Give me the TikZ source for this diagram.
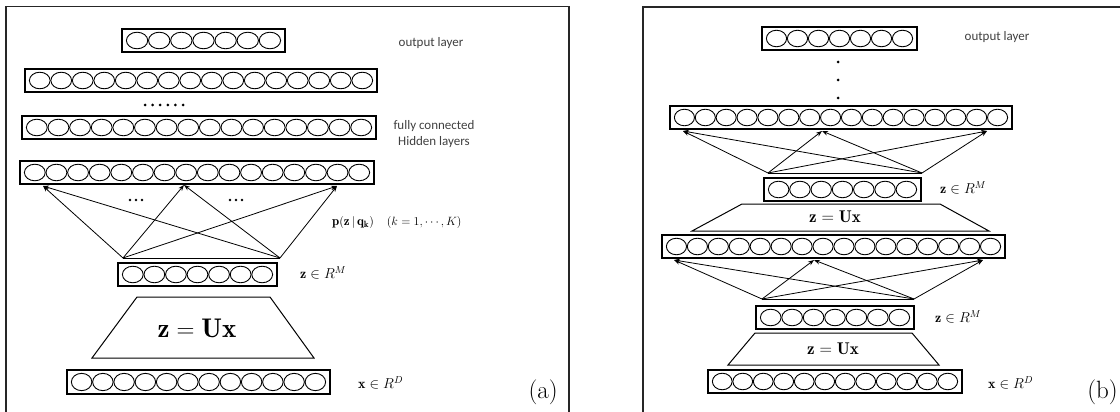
\documentclass[tikz,border=0pt]{standalone}
\usepackage{graphicx}
\usepackage{fontspec}
\newfontfamily\labfont{Carlito}
\usetikzlibrary{arrows.meta}
\tikzset{
 frame/.style={line width=1.2pt, draw=black!85},
 layerbox/.style={draw, line width=1.4pt, inner sep=0pt, outer sep=0pt},
 neuron/.style={line width=0.9pt},
 conn/.style={line width=0.8pt, -{Stealth[length=6pt,width=4.5pt]}},
 bar/.style={line width=0.8pt},
 trap/.style={line width=1pt},
 sanslab/.style={font=\labfont\fontsize{13}{16}\selectfont, text=black!75, align=center},
 mathlab/.style={font=\fontsize{14}{16}\selectfont, anchor=west, inner sep=0pt},
 plab/.style={font=\fontsize{13}{15}\selectfont, anchor=west, inner sep=0pt},
 panlab/.style={font=\fontsize{25}{27}\selectfont, inner sep=0pt},
 dotmark/.style={fill=black},
}
\newcommand\nnlayer[6]{%
  \pgfmathsetmacro\nnW{#4-#2}%
  \pgfmathsetmacro\nnH{#5-#3}%
  \pgfmathsetmacro\nnCX{(#2+#4)/2}%
  \pgfmathsetmacro\nnCY{(#3+#5)/2}%
  \pgfmathsetmacro\nnStep{(\nnW-8)/#6}%
  \pgfmathsetmacro\nnRX{\nnStep/2-0.4}%
  \pgfmathsetmacro\nnRY{\nnH*0.36}%
  \node[layerbox, minimum width=\nnW pt, minimum height=\nnH pt] (#1) at (\nnCX,\nnCY) {};
  \foreach \i in {1,...,#6}{\draw[neuron] ({#2+4+(\i-0.5)*\nnStep},\nnCY) ellipse [x radius=\nnRX pt, y radius=\nnRY pt];}
}
\begin{document}
\begin{tikzpicture}[x=1pt,y=-1pt]
\useasboundingbox (0,0) rectangle (1120,412);
% frames
\draw[frame] (6,412) -- (6,6.5) -- (569,6.5) -- (569,412);
\draw[frame] (643,412) -- (643,7) -- (1120,7);

% ---------------- panel (a)
\nnlayer{aOut}{122}{29}{285}{52}{7}
\node[sanslab] (aOutLab) at (431,43) {output layer};
\nnlayer{aH1}{25}{69}{377}{92}{16}
\foreach \k in {0,...,5}{\fill[dotmark] (145+\k*7.6,105) circle (1.5pt);}
\nnlayer{aH2}{22}{116}{376}{139}{16}
\node[sanslab] (aHidLab) at (434,134) {fully connected\\Hidden layers};
\nnlayer{aH3}{20}{161}{374}{184}{16}
\foreach \k in {0,...,2}{\fill[dotmark] (130+\k*6,200) circle (1.4pt);}
\foreach \k in {0,...,2}{\fill[dotmark] (230+\k*6,200) circle (1.4pt);}
\coordinate (aS1) at (123,258);
\coordinate (aS2) at (280,258);
\coordinate (aT1) at (43,186);
\coordinate (aT2) at (184,185);
\coordinate (aT3) at (337,186);
\draw[bar] (aS1) -- (aS2);
\foreach \s in {aS1,aS2}{\foreach \t in {aT1,aT2,aT3}{\draw[conn] (\s) -- (\t);}}
\node[plab] (aP) at (332,222) {$\mathbf{p(z\,|\,q_k)}\quad(k=1,\cdots,K)$};
\nnlayer{aZ}{118}{263}{277}{286}{7}
\node[mathlab] (aZlab) at (300,273) {$\mathbf{z}\in R^{M}$};
\draw[trap] (137,297) -- (270,297) -- (314,358) -- (92,358) -- cycle;
\node[font=\fontsize{27}{29}\selectfont] (aU) at (197,328) {$\mathbf{z=Ux}$};
\nnlayer{aX}{67}{370}{330}{394}{12}
\node[mathlab] (aXlab) at (358,383) {$\mathbf{x}\in R^{D}$};
\node[panlab, anchor=east] (aLab) at (558,392) {(a)};

% ---------------- panel (b)
\nnlayer{bOut}{762}{27}{917}{50}{7}
\node[sanslab] (bOutLab) at (997,37) {output layer};
\foreach \k in {62,80,98}{\fill[dotmark] (838,\k) circle (1.5pt);}
\nnlayer{bH1}{670}{106}{1012}{129}{16}
\coordinate (bS1) at (768,173);
\coordinate (bS2) at (922,173);
\coordinate (bT1) at (683,131);
\coordinate (bT2) at (822,131);
\coordinate (bT3) at (987,131);
\draw[bar] (bS1) -- (bS2);
\foreach \s in {bS1,bS2}{\foreach \t in {bT1,bT2,bT3}{\draw[conn] (\s) -- (\t);}}
\nnlayer{bZ1}{764}{178}{921}{201}{7}
\node[mathlab] (bZ1lab) at (940,188) {$\mathbf{z}\in R^{M}$};
\draw[trap] (742,204) -- (940,204) -- (989,231) -- (692,231) -- cycle;
\node[font=\fontsize{17}{19}\selectfont] (bU1) at (835,217) {$\mathbf{z=Ux}$};
\nnlayer{bH2}{662}{235}{1005}{258}{16}
\coordinate (bS3) at (762,299);
\coordinate (bS4) at (914,299);
\coordinate (bT4) at (674,260);
\coordinate (bT5) at (814,260);
\coordinate (bT6) at (983,260);
\draw[bar] (bS3) -- (bS4);
\foreach \s in {bS3,bS4}{\foreach \t in {bT4,bT5,bT6}{\draw[conn] (\s) -- (\t);}}
\nnlayer{bZ2}{756}{306}{914}{329}{7}
\node[mathlab] (bZ2lab) at (935,317) {$\mathbf{z}\in R^{M}$};
\draw[trap] (755,333) -- (912,333) -- (939,365) -- (728,365) -- cycle;
\node[font=\fontsize{17}{19}\selectfont] (bU2) at (833,349) {$\mathbf{z=Ux}$};
\nnlayer{bX}{708}{370}{962}{393}{12}
\node[mathlab] (bXlab) at (988,383) {$\mathbf{x}\in R^{D}$};
\node[panlab, anchor=east] (bLab) at (1118,392) {(b)};
\end{tikzpicture}
\end{document}
